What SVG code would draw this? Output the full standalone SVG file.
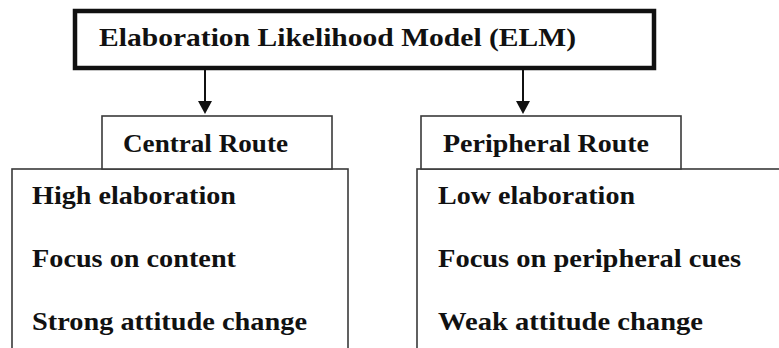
<svg xmlns="http://www.w3.org/2000/svg" width="779" height="348" viewBox="0 0 779 348">
<style>
.t{font-family:"Liberation Serif","DejaVu Serif",serif;font-weight:bold;fill:#111;font-size:25px}
.box{fill:#fff;stroke:#3a3a3a;stroke-width:1.6}
.conn{stroke:#111;stroke-width:2;fill:none}
.head{fill:#111}
</style>
<rect width="779" height="348" fill="#fff"/>
<g id="elm">
<rect x="75" y="11" width="579" height="57" fill="#fff" stroke="#111" stroke-width="4.5"/>
<text class="t" x="99" y="46" font-size="26.5" textLength="477" lengthAdjust="spacingAndGlyphs">Elaboration Likelihood Model (ELM)</text>
</g>
<g id="connectors">
<line class="conn" x1="205" y1="70" x2="205" y2="102"/>
<path class="head" d="M198,101 L212,101 L205,114 Z"/>
<line class="conn" x1="523" y1="70" x2="523" y2="102"/>
<path class="head" d="M516,101 L530,101 L523,114 Z"/>
</g>
<g id="central-details">
<rect class="box" x="12" y="169" width="336" height="190"/>
<text class="t" x="32" y="204" textLength="204" lengthAdjust="spacingAndGlyphs">High elaboration</text>
<text class="t" x="32" y="267" textLength="204" lengthAdjust="spacingAndGlyphs">Focus on content</text>
<text class="t" x="32" y="330" textLength="275" lengthAdjust="spacingAndGlyphs">Strong attitude change</text>
</g>
<g id="central-route">
<rect class="box" x="102" y="116" width="230" height="53"/>
<text class="t" x="123" y="152" textLength="165" lengthAdjust="spacingAndGlyphs">Central Route</text>
</g>
<g id="peripheral-details">
<rect class="box" x="417" y="169" width="380" height="190"/>
<text class="t" x="438" y="204" textLength="197" lengthAdjust="spacingAndGlyphs">Low elaboration</text>
<text class="t" x="438" y="267" textLength="303" lengthAdjust="spacingAndGlyphs">Focus on peripheral cues</text>
<text class="t" x="438" y="330" textLength="265" lengthAdjust="spacingAndGlyphs">Weak attitude change</text>
</g>
<g id="peripheral-route">
<rect class="box" x="421" y="116" width="260" height="53"/>
<text class="t" x="443" y="152" textLength="206" lengthAdjust="spacingAndGlyphs">Peripheral Route</text>
</g>
</svg>
